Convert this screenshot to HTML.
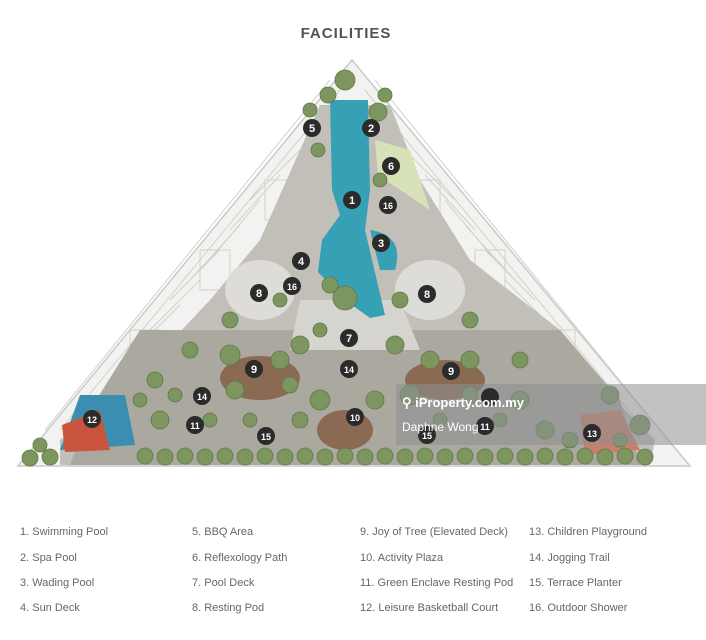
<!DOCTYPE html>
<html><head><meta charset="utf-8"><style>
html,body{margin:0;padding:0;background:#fff;}
body{width:706px;height:640px;position:relative;overflow:hidden;font-family:"Liberation Sans",sans-serif;}
.t{position:absolute;font-size:11px;color:#666;}
</style></head><body>
<svg width="706" height="640" style="position:absolute;left:0;top:0">
<text x="346" y="38" text-anchor="middle" font-family="Liberation Sans" font-weight="bold" font-size="15" fill="#5a5148" letter-spacing="1">FACILITIES</text>
<polygon points="352,60 18,466 690,466" fill="#f2f2f0" stroke="#c9c9c5" stroke-width="1.5"/>
<g stroke="#d0d0cc" stroke-width="1" fill="none">
<path d="M340,90 L60,430 M330,80 L45,430 M365,90 L645,430 M375,80 L660,430"/>
<path d="M300,150 L250,200 M280,175 L230,230 M260,200 L210,260 M240,225 L190,280 M220,250 L170,300 M200,280 L150,330 M180,305 L130,355 M405,150 L455,200 M425,175 L475,230 M445,200 L495,260 M465,225 L515,280 M485,250 L535,300 M505,280 L555,330 M525,305 L575,355"/>
<rect x="265" y="180" width="30" height="40"/><rect x="410" y="180" width="30" height="40"/><rect x="200" y="250" width="30" height="40"/><rect x="475" y="250" width="30" height="40"/><rect x="130" y="330" width="30" height="40"/><rect x="545" y="330" width="30" height="40"/>
</g>
<polygon points="320,105 390,105 420,180 470,260 560,330 600,385 655,440 650,465 60,465 60,440 130,385 210,300 260,240" fill="#c2bfb8"/>
<polygon points="140,330 560,330 620,400 640,465 70,465 90,410" fill="#aba8a0"/>
<polygon points="300,300 400,300 420,350 290,350" fill="#d6d4cf"/>
<ellipse cx="260" cy="290" rx="35" ry="30" fill="#dedcd7"/>
<ellipse cx="430" cy="290" rx="35" ry="30" fill="#dedcd7"/>
<path d="M330,100 L368,100 L370,190 L365,230 L385,315 L370,318 L345,300 L318,272 L322,240 L340,215 L332,190 Z" fill="#36a0b5"/>
<path d="M370,230 Q405,235 395,270 L380,270 Z" fill="#36a0b5"/>
<polygon points="375,140 410,150 430,210 378,175" fill="#d8e2b8"/>
<ellipse cx="260" cy="378" rx="40" ry="22" fill="#8a6a52"/>
<ellipse cx="445" cy="380" rx="40" ry="20" fill="#8a6a52"/>
<ellipse cx="345" cy="430" rx="28" ry="20" fill="#8a6a52"/>
<polygon points="80,395 125,395 135,445 60,450" fill="#3a8fb0"/>
<polygon points="62,425 100,410 110,450 65,452" fill="#c9553f"/>
<polygon points="580,415 620,410 640,450 585,455" fill="#c8806a"/>
<g fill="#7d9660" stroke="#5f7846" stroke-width="0.8">
<circle cx="345" cy="80" r="10"/><circle cx="328" cy="95" r="8"/><circle cx="378" cy="112" r="9"/><circle cx="310" cy="110" r="7"/><circle cx="385" cy="95" r="7"/><circle cx="318" cy="150" r="7"/><circle cx="380" cy="180" r="7"/>
<circle cx="345" cy="298" r="12"/><circle cx="330" cy="285" r="8"/><circle cx="300" cy="345" r="9"/><circle cx="395" cy="345" r="9"/>
<circle cx="230" cy="355" r="10"/><circle cx="280" cy="360" r="9"/><circle cx="235" cy="390" r="9"/><circle cx="290" cy="385" r="8"/>
<circle cx="430" cy="360" r="9"/><circle cx="470" cy="360" r="9"/><circle cx="410" cy="395" r="10"/><circle cx="470" cy="395" r="8"/>
<circle cx="320" cy="400" r="10"/><circle cx="375" cy="400" r="9"/><circle cx="190" cy="350" r="8"/><circle cx="520" cy="400" r="9"/>
<circle cx="160" cy="420" r="9"/><circle cx="545" cy="430" r="9"/><circle cx="300" cy="420" r="8"/><circle cx="520" cy="360" r="8"/>
<circle cx="155" cy="380" r="8"/><circle cx="610" cy="395" r="9"/><circle cx="640" cy="425" r="10"/><circle cx="230" cy="320" r="8"/><circle cx="470" cy="320" r="8"/>
<circle cx="175" cy="395" r="7"/><circle cx="140" cy="400" r="7"/><circle cx="210" cy="420" r="7"/><circle cx="250" cy="420" r="7"/><circle cx="440" cy="420" r="7"/><circle cx="500" cy="420" r="7"/><circle cx="570" cy="440" r="8"/><circle cx="620" cy="440" r="7"/><circle cx="40" cy="445" r="7"/><circle cx="400" cy="300" r="8"/><circle cx="280" cy="300" r="7"/><circle cx="320" cy="330" r="7"/>
</g>
<g fill="#7d9660" stroke="#5f7846" stroke-width="0.8">
<circle cx="30" cy="458" r="8"/><circle cx="50" cy="457" r="8"/><circle cx="145" cy="456" r="8"/><circle cx="165" cy="457" r="8"/><circle cx="185" cy="456" r="8"/><circle cx="205" cy="457" r="8"/><circle cx="225" cy="456" r="8"/><circle cx="245" cy="457" r="8"/><circle cx="265" cy="456" r="8"/><circle cx="285" cy="457" r="8"/><circle cx="305" cy="456" r="8"/><circle cx="325" cy="457" r="8"/><circle cx="345" cy="456" r="8"/><circle cx="365" cy="457" r="8"/><circle cx="385" cy="456" r="8"/><circle cx="405" cy="457" r="8"/><circle cx="425" cy="456" r="8"/><circle cx="445" cy="457" r="8"/><circle cx="465" cy="456" r="8"/><circle cx="485" cy="457" r="8"/><circle cx="505" cy="456" r="8"/><circle cx="525" cy="457" r="8"/><circle cx="545" cy="456" r="8"/><circle cx="565" cy="457" r="8"/><circle cx="585" cy="456" r="8"/><circle cx="605" cy="457" r="8"/><circle cx="625" cy="456" r="8"/><circle cx="645" cy="457" r="8"/>
</g>
<rect x="396" y="384" width="310" height="61" fill="#8c8f94" fill-opacity="0.55"/>
<g font-family="Liberation Sans" font-size="11" fill="#fff" text-anchor="middle" font-weight="bold">
<g fill="#2b2b2b"><circle cx="312" cy="128" r="9"/><circle cx="371" cy="128" r="9"/><circle cx="391" cy="166" r="9"/><circle cx="352" cy="200" r="9"/><circle cx="388" cy="205" r="9"/><circle cx="381" cy="243" r="9"/><circle cx="301" cy="261" r="9"/><circle cx="292" cy="286" r="9"/><circle cx="259" cy="293" r="9"/><circle cx="427" cy="294" r="9"/><circle cx="349" cy="338" r="9"/><circle cx="254" cy="369" r="9"/><circle cx="349" cy="369" r="9"/><circle cx="451" cy="371" r="9"/><circle cx="202" cy="396" r="9"/><circle cx="490" cy="397" r="9"/><circle cx="355" cy="417" r="9"/><circle cx="195" cy="425" r="9"/><circle cx="485" cy="426" r="9"/><circle cx="92" cy="419" r="9"/><circle cx="266" cy="436" r="9"/><circle cx="427" cy="435" r="9"/><circle cx="592" cy="433" r="9"/></g>
<text x="312" y="132">5</text><text x="371" y="132">2</text><text x="391" y="170">6</text><text x="352" y="204">1</text><text x="388" y="209" font-size="9">16</text><text x="381" y="247">3</text><text x="301" y="265">4</text><text x="292" y="290" font-size="9">16</text><text x="259" y="297">8</text><text x="427" y="298">8</text><text x="349" y="342">7</text><text x="254" y="373">9</text><text x="349" y="373" font-size="9">14</text><text x="451" y="375">9</text><text x="202" y="400" font-size="9">14</text><text x="355" y="421" font-size="9">10</text><text x="195" y="429" font-size="9">11</text><text x="485" y="430" font-size="9">11</text><text x="92" y="423" font-size="9">12</text><text x="266" y="440" font-size="9">15</text><text x="427" y="439" font-size="9">15</text><text x="592" y="437" font-size="9">13</text>
</g>
<text x="402" y="407" font-family="Liberation Sans" font-size="13" font-weight="bold" fill="#fff">⚲ iProperty.com.my</text>
<text x="402" y="431" font-family="Liberation Sans" font-size="12" fill="#fff">Daphne Wong</text>
</svg>
<div class="t" style="left:20px;top:526px">1. Swimming Pool</div>
<div class="t" style="left:20px;top:552px">2. Spa Pool</div>
<div class="t" style="left:20px;top:577px">3. Wading Pool</div>
<div class="t" style="left:20px;top:602px">4. Sun Deck</div>
<div class="t" style="left:192px;top:526px">5. BBQ Area</div>
<div class="t" style="left:192px;top:552px">6. Reflexology Path</div>
<div class="t" style="left:192px;top:577px">7. Pool Deck</div>
<div class="t" style="left:192px;top:602px">8. Resting Pod</div>
<div class="t" style="left:360px;top:526px">9. Joy of Tree (Elevated Deck)</div>
<div class="t" style="left:360px;top:552px">10. Activity Plaza</div>
<div class="t" style="left:360px;top:577px">11. Green Enclave Resting Pod</div>
<div class="t" style="left:360px;top:602px">12. Leisure Basketball Court</div>
<div class="t" style="left:529px;top:526px">13. Children Playground</div>
<div class="t" style="left:529px;top:552px">14. Jogging Trail</div>
<div class="t" style="left:529px;top:577px">15. Terrace Planter</div>
<div class="t" style="left:529px;top:602px">16. Outdoor Shower</div>
</body></html>
